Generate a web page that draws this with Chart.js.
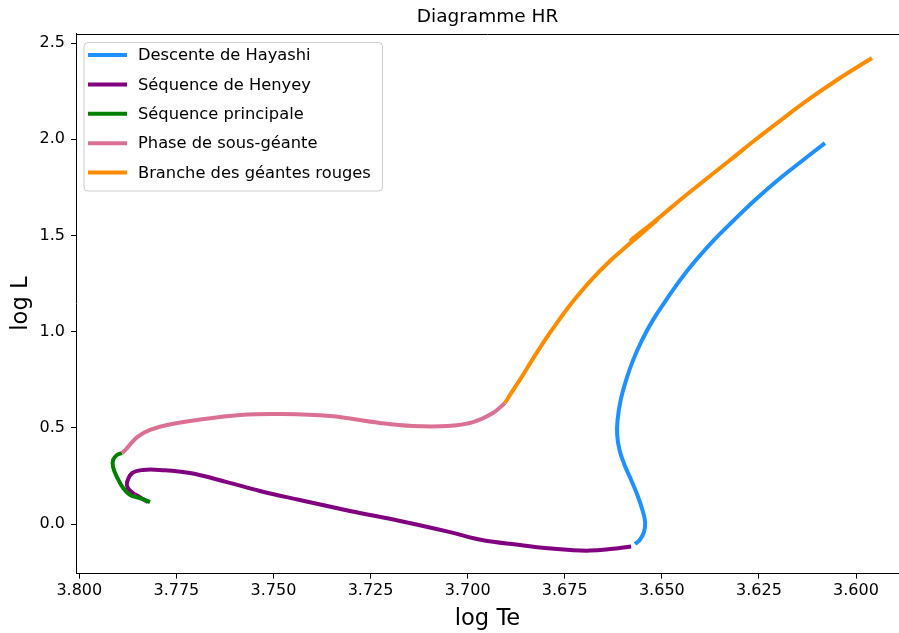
<!DOCTYPE html>
<html>
<head>
<meta charset="utf-8">
<title>Diagramme HR</title>
<script src="https://cdn.jsdelivr.net/npm/chart.js@4.4.1/dist/chart.umd.min.js"></script>
<style>
  html, body { margin: 0; padding: 0; background: #ffffff; }
  #wrap { width: 899px; height: 633px; }
</style>
</head>
<body>
<div id="wrap"><canvas id="hr" width="899" height="633"></canvas></div>
<script>
// Tick positions
const TE_TICKS = [3.800, 3.775, 3.750, 3.725, 3.700, 3.675, 3.650, 3.625, 3.600];
const L_TICKS = [0.0, 0.5, 1.0, 1.5, 2.0, 2.5];

const TITLE = 'Diagramme HR';

// Phase labels (legend order)
const PHASES = [
  'Descente de Hayashi',
  'Séquence de Henyey',
  'Séquence principale',
  'Phase de sous-géante',
  'Branche des géantes rouges'
];

// Evolutionary track, one pair of arrays per phase (log Te, log L)
const hayashiTe = [3.6080, 3.6136, 3.6201, 3.6260, 3.6314, 3.6366, 3.6412, 3.6453, 3.6489, 3.6523,
                   3.6551, 3.6574, 3.6592, 3.6606, 3.6614, 3.6615, 3.6609, 3.6596, 3.6579, 3.6563,
                   3.6550, 3.6543, 3.6546, 3.6557, 3.6569];
const hayashiL  = [1.980, 1.892, 1.788, 1.684, 1.580, 1.476, 1.372, 1.268, 1.164, 1.060,
                   0.956, 0.852, 0.748, 0.644, 0.541, 0.463, 0.385, 0.307, 0.229, 0.151,
                   0.073, 0.010, -0.042, -0.083, -0.104];

const henyeyTe = [3.6579, 3.6633, 3.6685, 3.6736, 3.6801, 3.6865, 3.6963, 3.7045, 3.7174, 3.7303, 3.7432,
                  3.7535, 3.7620, 3.7715, 3.7792, 3.7836, 3.7864, 3.7877, 3.7875, 3.7862, 3.7844, 3.7823];
const henyeyL  = [-0.117, -0.130, -0.138, -0.135, -0.125, -0.109, -0.083, -0.042, 0.016, 0.068, 0.125,
                  0.172, 0.218, 0.265, 0.281, 0.281, 0.265, 0.218, 0.187, 0.161, 0.140, 0.114];

const mainSeqTe = [3.7818, 3.7844, 3.7869, 3.7887, 3.7903, 3.7913, 3.7913, 3.7903, 3.7890];
const mainSeqL  = [0.114, 0.135, 0.151, 0.187, 0.244, 0.296, 0.333, 0.359, 0.369];

const subgiantTe = [3.7890, 3.7877, 3.7851, 3.7818, 3.7774, 3.7697, 3.7586, 3.7483, 3.7354, 3.7226,
                    3.7141, 3.7053, 3.6986, 3.6935, 3.6904];
const subgiantL  = [0.369, 0.395, 0.452, 0.489, 0.515, 0.541, 0.567, 0.572, 0.561, 0.525,
                    0.509, 0.509, 0.530, 0.577, 0.629];

const redGiantTe = [3.6904, 3.6883, 3.6866, 3.6834, 3.6801, 3.6765, 3.6726, 3.6682, 3.6631, 3.6587,
                    3.6512, 3.6579, 3.6505, 3.6453, 3.6389, 3.6324, 3.6260, 3.6193, 3.6124, 3.6049, 3.5959];
const redGiantL  = [0.629, 0.696, 0.748, 0.852, 0.956, 1.060, 1.164, 1.268, 1.372, 1.450,
                    1.580, 1.476, 1.596, 1.684, 1.788, 1.892, 1.996, 2.100, 2.204, 2.308, 2.422];

const COLORS = ['#1e90ff', '#800080', '#008000', '#db7093', '#ff8c00'];

const FONT = "'DejaVu Sans', 'Liberation Sans', sans-serif";

function toPoints(te, l) {
  return te.map((t, i) => ({ x: t, y: l[i] }));
}

const tracks = [
  toPoints(hayashiTe, hayashiL),
  toPoints(henyeyTe, henyeyL),
  toPoints(mainSeqTe, mainSeqL),
  toPoints(subgiantTe, subgiantL),
  toPoints(redGiantTe, redGiantL)
];

const datasets = tracks.map((pts, i) => ({
  label: PHASES[i],
  data: pts,
  showLine: true,
  borderColor: COLORS[i],
  backgroundColor: COLORS[i],
  borderWidth: 4,
  borderCapStyle: 'butt',
  borderJoinStyle: 'round',
  pointRadius: 0,
  pointHoverRadius: 0,
  tension: 0.4,
  fill: false,
  order: PHASES.length - i   // later phases are drawn above earlier ones
}));

// Title centred over the plot area, plus the top spine of the frame
const frame = {
  id: 'frame',
  afterDraw(chart) {
    const { ctx, chartArea: a } = chart;
    ctx.save();
    ctx.strokeStyle = '#000000';
    ctx.lineWidth = 1;
    ctx.beginPath();
    ctx.moveTo(a.left, Math.round(a.top) + 0.5);
    ctx.lineTo(a.right, Math.round(a.top) + 0.5);
    ctx.stroke();

    ctx.fillStyle = '#000000';
    ctx.font = '18.5px ' + FONT;
    ctx.textAlign = 'center';
    ctx.textBaseline = 'middle';
    ctx.fillText(TITLE, (a.left + a.right) / 2, 17);
    ctx.restore();
  }
};

// Boxed legend in the upper-left corner of the plot area
const boxedLegend = {
  id: 'boxedLegend',
  afterDraw(chart) {
    const { ctx, chartArea: a } = chart;
    const x0 = a.left + 8, y0 = a.top + 9;
    const w = 298.5, h = 148.5, r = 4;
    ctx.save();
    ctx.beginPath();
    ctx.moveTo(x0 + r, y0);
    ctx.arcTo(x0 + w, y0, x0 + w, y0 + h, r);
    ctx.arcTo(x0 + w, y0 + h, x0, y0 + h, r);
    ctx.arcTo(x0, y0 + h, x0, y0, r);
    ctx.arcTo(x0, y0, x0 + w, y0, r);
    ctx.closePath();
    ctx.fillStyle = 'rgba(255,255,255,0.8)';
    ctx.fill();
    ctx.strokeStyle = '#cccccc';
    ctx.lineWidth = 1;
    ctx.stroke();

    ctx.font = '16.3px ' + FONT;
    ctx.textBaseline = 'middle';
    ctx.textAlign = 'left';
    chart.data.datasets.forEach((ds, i) => {
      const y = y0 + 12.5 + i * 29.4;
      ctx.strokeStyle = ds.borderColor;
      ctx.lineWidth = 4;
      ctx.lineCap = 'butt';
      ctx.beginPath();
      ctx.moveTo(x0 + 4, y);
      ctx.lineTo(x0 + 43, y);
      ctx.stroke();
      ctx.fillStyle = '#000000';
      ctx.fillText(ds.label, x0 + 54, y + 1);
    });
    ctx.restore();
  }
};

new Chart(document.getElementById('hr'), {
  type: 'scatter',
  data: { datasets },
  options: {
    responsive: false,
    animation: false,
    devicePixelRatio: 1,
    layout: { padding: { left: 0, right: 0, top: 33.5, bottom: 0 } },
    plugins: {
      legend: { display: false },
      tooltip: { enabled: false },
      title: { display: false }
    },
    scales: {
      x: {
        type: 'linear',
        reverse: true,
        min: 3.58893,
        max: 3.80085,
        afterFit(axis) { axis.height = 59.4; },
        afterBuildTicks(axis) { axis.ticks = TE_TICKS.map(v => ({ value: v })); },
        grid: { display: true, drawOnChartArea: false, drawTicks: true, tickLength: 5, color: '#000000', lineWidth: 1 },
        border: { display: true, color: '#000000', width: 1 },
        ticks: {
          color: '#000000',
          font: { family: FONT, size: 16 },
          padding: 3,
          maxRotation: 0,
          autoSkip: false,
          callback: v => Number(v).toFixed(3)
        },
        title: {
          display: true,
          text: 'log Te',
          color: '#000000',
          font: { family: FONT, size: 22.6, lineHeight: 1.2 },
          padding: { top: 0, bottom: 0.5 }
        }
      },
      y: {
        type: 'linear',
        min: -0.2576,
        max: 2.5496,
        afterFit(axis) { axis.width = 76; },
        afterBuildTicks(axis) { axis.ticks = L_TICKS.map(v => ({ value: v })); },
        grid: { display: true, drawOnChartArea: false, drawTicks: true, tickLength: 5, color: '#000000', lineWidth: 1 },
        border: { display: true, color: '#000000', width: 1 },
        ticks: {
          color: '#000000',
          font: { family: FONT, size: 16 },
          padding: 6,
          autoSkip: false,
          callback: v => Number(v).toFixed(1)
        },
        title: {
          display: true,
          text: 'log L',
          color: '#000000',
          font: { family: FONT, size: 22.6, lineHeight: 1.2 },
          padding: { top: 8, bottom: 0 }
        }
      }
    }
  },
  plugins: [frame, boxedLegend]
});
</script>
</body>
</html>
